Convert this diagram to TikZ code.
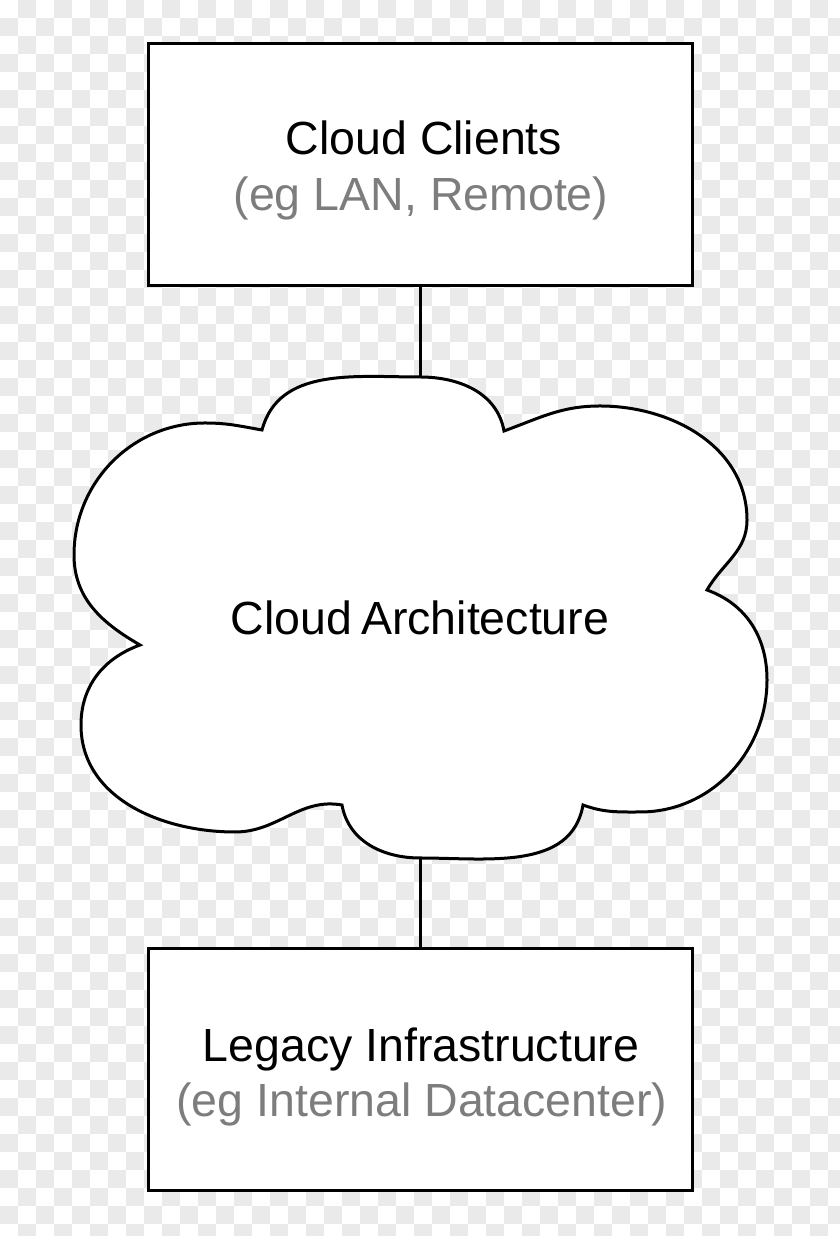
\documentclass[tikz,border=0pt]{standalone}
\usepackage{fontspec}
\setmainfont{Liberation Sans}
\definecolor{subgray}{RGB}{125,125,125}
\definecolor{checkgray}{RGB}{234,234,234}
\begin{document}
\begin{tikzpicture}[x=1pt,y=1pt,
  box/.style={draw=black,line width=3pt,fill=white,minimum width=544pt,minimum height=242pt,inner sep=0pt},
  maintext/.style={font=\fontsize{46.5}{55}\selectfont,text=black,anchor=base,inner sep=0pt},
  subtext/.style={font=\fontsize{46.5}{55}\selectfont,text=subgray,anchor=base,inner sep=0pt},
  link/.style={draw=black,line width=3pt},
  cloudline/.style={draw=black,line width=3pt,fill=white}]
\useasboundingbox (0,0) rectangle (840,1236);
\fill[white] (0,0) rectangle (840,1236);
% transparency checkerboard of the reference
\foreach \j in {0,...,68}{
  \pgfmathtruncatemacro{\ia}{mod(\j+1,2)}
  \pgfmathtruncatemacro{\ib}{\ia+2}
  \foreach \i in {\ia,\ib,...,46}{
    \fill[checkgray] (18*\i,1236-18*\j) rectangle ++(18,-18);
  }
}
% boxes
\node[box] (clients) at (420,1071) {};
\node[box] (legacy) at (420,166) {};
% cloud anchors
\coordinate (cloudtop) at (420,859);
\coordinate (cloudbot) at (420,378);
% connectors
\draw[link] (clients.south) -- (cloudtop);
\draw[link] (cloudbot) -- (legacy.north);
% cloud outline
\path[cloudline] (262,806)
  to[out=75,in=180] (cloudtop)
  to[out=0,in=100] (504,805)
  to[out=20,in=180] (600,830)
  to[out=0,in=90] (747,716)
  to[out=-90,in=60] (707,646)
  to[out=-20,in=90] (767,556)
  to[out=-90,in=0] (640,424)
  to[out=180,in=-20] (583,431)
  to[out=-100,in=0] (cloudbot)
  to[out=180,in=-80] (342,431)
  to[out=170,in=0] (235,404)
  to[out=180,in=-90] (81,511)
  to[out=90,in=200] (140,591)
  to[out=150,in=-90] (74,681)
  to[out=90,in=180] (205,813)
  to[out=0,in=170] (262,806) -- cycle;
% texts
\node[maintext] (t1) at (424,1081) {Cloud Clients};
\node[subtext] (t2) at (421,1025) {(eg LAN, Remote)};
\node[maintext] (t3) at (420,601) {Cloud\hspace{-4pt} Architecture};
\node[maintext] (t4) at (421,174) {Legacy Infrastructure};
\node[subtext] (t5) at (422,119) {(eg Internal Datacenter)};
\end{tikzpicture}
\end{document}
